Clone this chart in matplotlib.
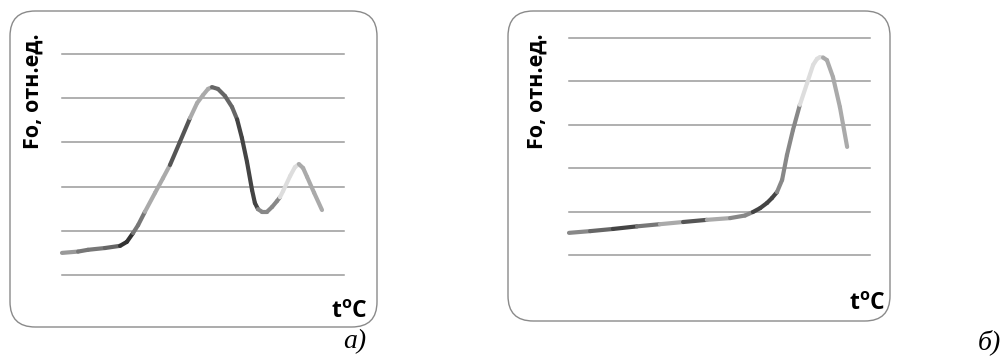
import matplotlib
matplotlib.use("Agg")
import matplotlib.pyplot as plt
from matplotlib.collections import LineCollection
from matplotlib.patches import FancyBboxPatch
import numpy as np

plt.rcParams['mathtext.fontset'] = 'custom'
plt.rcParams['mathtext.bf'] = 'Open Sans:bold'
plt.rcParams['mathtext.rm'] = 'Open Sans:bold'

# ---- data (panel а) ----
a_x = [0.0, 5.7, 9.2, 15.2, 20.6, 23.0, 25.2, 27.0, 29.4, 33.0, 35.8, 38.3, 41.8, 45.4,
       47.9, 50.0, 51.8, 53.2, 55.3, 57.8, 60.3, 62.1, 63.8, 65.6, 67.4, 68.4, 69.5,
       70.9, 72.7, 74.5, 76.2, 77.3, 78.4, 80.9, 82.6, 84.0, 85.5, 86.9, 89.4, 92.2]
a_y = [0.50, 0.53, 0.57, 0.61, 0.66, 0.75, 0.95, 1.13, 1.43, 1.86, 2.19, 2.49, 3.01, 3.55,
       3.89, 4.07, 4.21, 4.25, 4.21, 4.05, 3.80, 3.52, 3.10, 2.56, 1.92, 1.63, 1.49,
       1.43, 1.43, 1.54, 1.67, 1.76, 1.90, 2.24, 2.44, 2.51, 2.42, 2.22, 1.86, 1.47]
a_seg_colors = (['#999999'] + ['#777777'] * 2 + ['#666666'] + ['#333333'] * 2 +
                ['#777777'] * 2 + ['#aaaaaa'] * 3 + ['#555555'] * 2 + ['#aaaaaa'] * 4 +
                ['#666666'] * 4 + ['#444444'] * 5 + ['#888888'] * 5 + ['#dddddd'] * 4 +
                ['#aaaaaa'] * 4)

# ---- data (panel б) ----
b_x = [0.0, 7.0, 14.6, 22.6, 30.2, 37.9, 45.8, 53.5, 58.5, 61.1, 63.5, 65.8, 67.4, 69.1,
       70.8, 72.4, 74.4, 76.7, 79.1, 81.1, 82.4, 83.4, 84.4, 85.7, 87.7, 90.0, 92.4]
b_y = [0.51, 0.55, 0.60, 0.66, 0.71, 0.76, 0.81, 0.85, 0.91, 0.99, 1.08, 1.20, 1.31, 1.45,
       1.73, 2.30, 2.88, 3.46, 3.96, 4.38, 4.52, 4.56, 4.55, 4.49, 4.10, 3.41, 2.49]
b_seg_colors = (['#888888', '#666666', '#444444', '#777777', '#aaaaaa', '#555555',
                 '#aaaaaa'] + ['#888888'] * 2 + ['#444444'] * 4 + ['#888888'] * 4 +
                ['#dddddd'] * 5 + ['#aaaaaa'] * 4)

grid_levels = [0, 1, 2, 3, 4, 5]
y_label = "Fo, отн.ед."
x_label = r"t$^{\mathbf{o}}$C"
panel_labels = ["а)", "б)"]

W, H = 1008, 360
fig = plt.figure(figsize=(W / 100, H / 100), dpi=100)


def fx(px):
    return px / W


def fy(py):
    return 1 - py / H


def panel(box, plot, xs, ys, cols, ylab_xy, xlab_xy, plab_xy, plab):
    x0, y0, x1, y1 = box
    patch = FancyBboxPatch((fx(x0), fy(y1)), fx(x1 - x0), (y1 - y0) / H,
                           boxstyle="round,pad=0,rounding_size=0.025",
                           transform=fig.transFigure, fill=False,
                           edgecolor='#8a8a8a', linewidth=1.0,
                           mutation_aspect=W / H)
    fig.patches.append(patch)
    px0, py0, px1, py1 = plot
    ax = fig.add_axes([fx(px0), fy(py1), fx(px1 - px0), (py1 - py0) / H])
    ax.set_xlim(0, 100)
    ax.set_ylim(0, 5)
    ax.set_yticks(grid_levels)
    ax.set_xticks([])
    for g in grid_levels:
        ax.axhline(g, color='#9a9a9a', lw=1.1, zorder=1, clip_on=False)
    for s in ax.spines.values():
        s.set_visible(False)
    ax.tick_params(left=False, labelleft=False)
    ax.patch.set_alpha(0)
    pts = np.column_stack([xs, ys])
    segs = np.stack([pts[:-1], pts[1:]], axis=1)
    lc = LineCollection(segs, colors=cols, linewidths=3.0, capstyle='round',
                        joinstyle='round', zorder=3, clip_on=False)
    ax.add_collection(lc)
    fig.text(fx(ylab_xy[0]), fy(ylab_xy[1]), y_label, rotation=90, ha='center',
             va='center', fontsize=15.5, fontweight='bold', family='Open Sans')
    fig.text(fx(xlab_xy[0]), fy(xlab_xy[1]), x_label, ha='right', va='baseline',
             fontsize=16.5, fontweight='bold', family='Open Sans')
    fig.text(fx(plab_xy[0]), fy(plab_xy[1]), plab, ha='right', va='center',
             fontsize=20, style='italic', family='Liberation Serif')
    return ax


panel((10, 11, 377, 327), (62, 54, 344, 275), a_x, a_y, a_seg_colors,
      (33, 91), (368, 318), (366, 342), panel_labels[0])
panel((508, 11, 890, 321), (569, 38, 870, 255), b_x, b_y, b_seg_colors,
      (537, 91), (886, 310), (1001, 342), panel_labels[1])

fig.savefig("out.png", dpi=100)
